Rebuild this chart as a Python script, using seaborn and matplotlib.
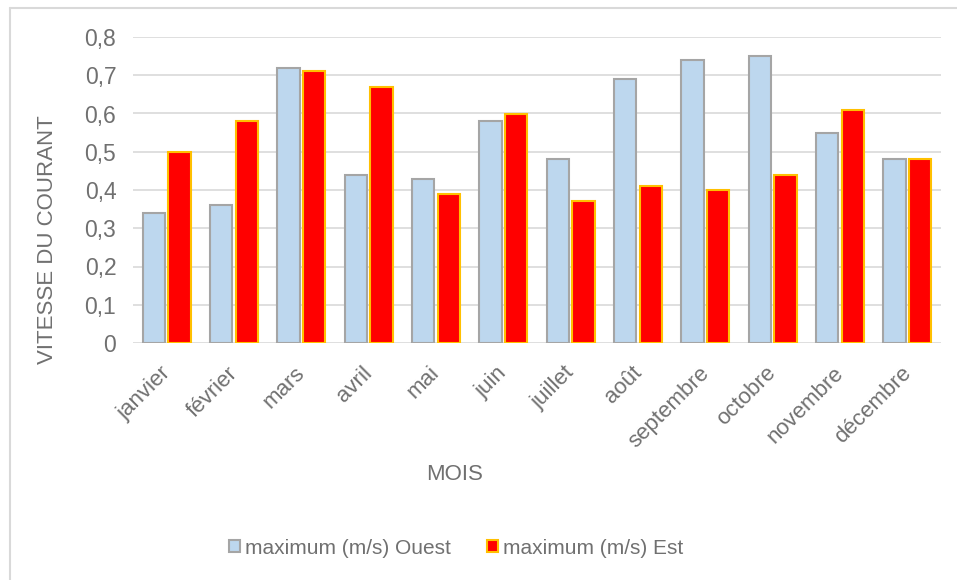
import matplotlib
matplotlib.use("Agg")
import matplotlib.pyplot as plt
from matplotlib.lines import Line2D
from matplotlib.ticker import MultipleLocator, FuncFormatter
from matplotlib.transforms import ScaledTranslation
import seaborn as sns
import pandas as pd

mois = ["janvier", "février", "mars", "avril", "mai", "juin", "juillet",
        "août", "septembre", "octobre", "novembre", "décembre"]
ouest = [0.34, 0.36, 0.72, 0.44, 0.43, 0.58, 0.48, 0.69, 0.74, 0.75, 0.55, 0.48]
est = [0.50, 0.58, 0.71, 0.67, 0.39, 0.60, 0.37, 0.41, 0.40, 0.44, 0.61, 0.48]
series = ["maximum (m/s) Ouest", "maximum (m/s) Est"]

df = pd.DataFrame({
    "mois": mois * 2,
    "vitesse": ouest + est,
    "serie": [series[0]] * len(mois) + [series[1]] * len(mois),
})

sns.set_theme(style="white")
plt.rcParams["font.family"] = ["Liberation Sans", "DejaVu Sans"]

TXT = "#707070"
GRID = "#D9D9D9"
fills = {series[0]: "#BDD7EE", series[1]: "#FF0000"}
edges = {series[0]: "#A5A5A5", series[1]: "#FFC000"}

fig = plt.figure(figsize=(9.57, 5.8), dpi=100)
ax = fig.add_axes([133 / 957, 1 - 343 / 580, (941 - 133) / 957, (343 - 37) / 580])

sns.barplot(data=df, x="mois", y="vitesse", hue="serie", order=mois,
            hue_order=series, palette=fills, saturation=1, width=0.76, gap=0.13,
            ax=ax, legend=False, zorder=3)

for cont, name in zip(ax.containers, series):
    for bar in cont:
        bar.set_edgecolor(edges[name])
        bar.set_linewidth(1.5)

ax.set_ylim(0, 0.8)
ax.set_xlim(-0.5, len(mois) - 0.5)
ax.yaxis.set_major_locator(MultipleLocator(0.1))
ax.yaxis.set_major_formatter(FuncFormatter(
    lambda v, p: "0" if abs(v) < 1e-9 else f"{v:.1f}".replace(".", ",")))
ax.grid(axis="y", color=GRID, linewidth=1.2, zorder=0)
ax.grid(axis="x", visible=False)
for s in ax.spines.values():
    s.set_visible(False)
ax.tick_params(axis="both", length=0, colors=TXT)
ax.tick_params(axis="y", pad=12, labelsize=16.5)
ax.tick_params(axis="x", pad=14, labelsize=16)
shift = ScaledTranslation(-7 / 100, 0, fig.dpi_scale_trans)
for lab in ax.get_xticklabels():
    lab.set_rotation(45)
    lab.set_ha("right")
    lab.set_va("top")
    lab.set_rotation_mode("anchor")
    lab.set_transform(lab.get_transform() + shift)

ax.set_xlabel("")
ax.set_ylabel("")
fig.text(48 / 957, 1 - 240 / 580, "VITESSE DU COURANT", rotation=90,
         ha="center", va="center", color=TXT, fontsize=16)
fig.text(455 / 957, 1 - 475 / 580, "MOIS", ha="center", va="center",
         color=TXT, fontsize=16)

handles = [plt.Rectangle((0, 0), 1, 1, facecolor=fills[n], edgecolor=edges[n],
                         linewidth=1.5) for n in series]
fig.legend(handles, series, loc="center", bbox_to_anchor=(456 / 957, 1 - 548 / 580),
           ncol=2, frameon=False, fontsize=15, labelcolor=TXT,
           handlelength=0.55, handleheight=0.55, handletextpad=0.25,
           columnspacing=1.7)

# chart area frame
fig.add_artist(Line2D([9.5 / 957, 9.5 / 957], [0, 1 - 8 / 580],
                      transform=fig.transFigure, color=GRID, linewidth=1.5))
fig.add_artist(Line2D([9.5 / 957, 1], [1 - 8 / 580, 1 - 8 / 580],
                      transform=fig.transFigure, color=GRID, linewidth=1.5))

fig.savefig("out.png", dpi=100, facecolor="white")
